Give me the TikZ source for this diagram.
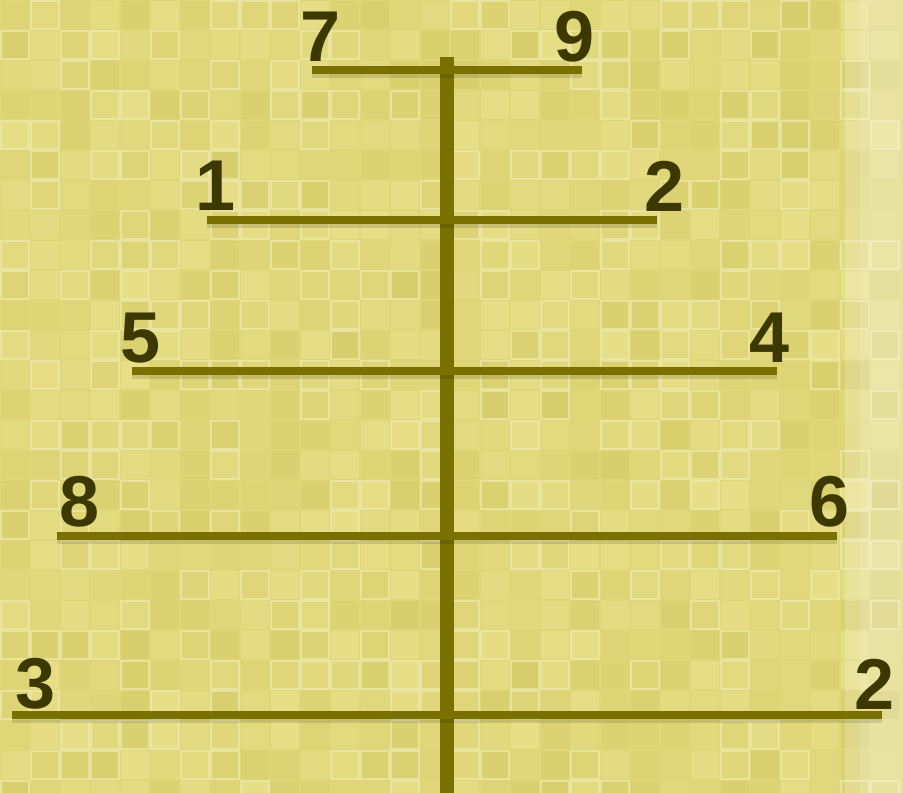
\documentclass[tikz,border=0pt]{standalone}
\usepackage{fontspec}
\setmainfont{Liberation Sans}
\definecolor{bgbase}{HTML}{DFD677}
\definecolor{bglight}{HTML}{ECE592}
\definecolor{bgdark}{HTML}{D3CA66}
\definecolor{olive}{HTML}{7A7000}
\definecolor{numcol}{HTML}{3D3700}
\tikzset{
  branch/.style={draw=olive, line width=8pt},
  trunk/.style={draw=olive, line width=14pt},
  num/.style={font=\bfseries\fontsize{72}{72}\selectfont, text=numcol, inner sep=0pt, anchor=center},
  tile/.style={line width=1.2pt, draw=bglight!60!white}
}
\begin{document}
\begin{tikzpicture}[x=1pt,y=-1pt]
\useasboundingbox (0,0) rectangle (903,793);
\fill[bgbase] (0,0) rectangle (903,793);
% mosaic texture
\pgfmathsetseed{11}
\foreach \i in {0,...,29}{
  \foreach \j in {0,...,26}{
    \pgfmathsetmacro{\r}{rnd}
    \pgfmathsetmacro{\p}{int(100*\r)}
    \fill[bgdark!\p!bglight, opacity=0.6] (\i*30+1,\j*30+1) rectangle (\i*30+29,\j*30+29);
  }
}
\foreach \i in {0,...,29}{
  \foreach \j in {0,...,26}{
    \pgfmathsetmacro{\r}{rnd}
    \ifdim\r pt<0.35pt
      \draw[tile, opacity=0.55] (\i*30+1,\j*30+1) rectangle (\i*30+29,\j*30+29);
    \fi
  }
}
% light right edge
\fill[white, opacity=0.2] (845,0) rectangle (903,793);
\fill[white, opacity=0.12] (860,0) rectangle (903,793);

% trunk
\coordinate (top) at (447,57);
\coordinate (bot) at (447,793);
\draw[trunk] (top) -- (bot);

% branches
\coordinate (l1) at (312,70);  \coordinate (r1) at (582,70);
\coordinate (l2) at (207,220); \coordinate (r2) at (657,220);
\coordinate (l3) at (132,371); \coordinate (r3) at (777,371);
\coordinate (l4) at (57,536);  \coordinate (r4) at (837,536);
\coordinate (l5) at (12,715);  \coordinate (r5) at (882,715);
\foreach \k in {1,...,5}{
  \draw[black, opacity=0.12, line width=8pt] ([yshift=-4pt]l\k) -- ([yshift=-4pt]r\k);
  \draw[branch] (l\k) -- (r\k);
}

% labels
\node[num] (n7) at (321,37) {7};
\node[num] (n9) at (575,37) {9};
\node[num] (n1) at (216,186) {1};
\node[num] (n2a) at (665,186) {2};
\node[num] (n5) at (141,338) {5};
\node[num] (n4) at (770,338) {4};
\node[num] (n8) at (80,502) {8};
\node[num] (n6) at (830,502) {6};
\node[num] (n3) at (36,684) {3};
\node[num] (n2b) at (875,684) {2};
\end{tikzpicture}
\end{document}
